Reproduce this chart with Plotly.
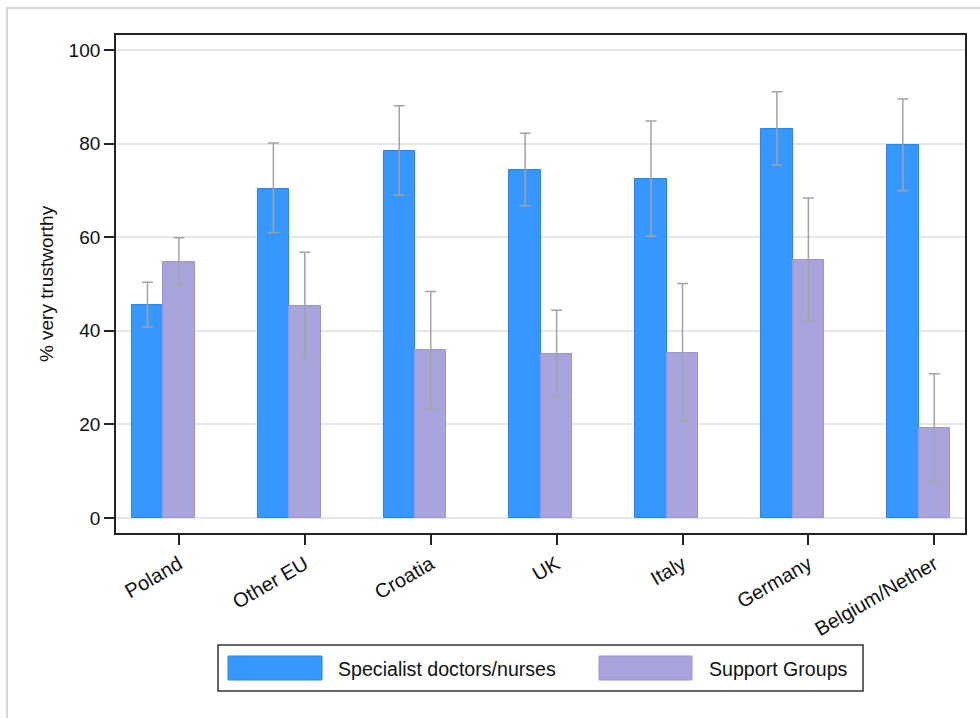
import plotly.graph_objects as go

countries = ["Poland", "Other EU", "Croatia", "UK", "Italy", "Germany", "Belgium/Nether"]
series_names = ["Specialist doctors/nurses", "Support Groups"]

spec = [45.6, 70.4, 78.5, 74.4, 72.5, 83.1, 79.6]
spec_lo = [40.8, 61.0, 69.0, 66.7, 60.2, 75.4, 69.9]
spec_hi = [50.4, 80.1, 88.1, 82.2, 84.8, 91.1, 89.5]

supp = [54.8, 45.2, 35.8, 35.1, 35.3, 55.2, 19.2]
supp_lo = [49.9, 33.8, 23.4, 26.1, 20.7, 42.2, 7.8]
supp_hi = [59.9, 56.8, 48.4, 44.4, 50.1, 68.4, 30.8]

y_ticks = [0, 20, 40, 60, 80, 100]

BLUE = "#3597ff"
BLUE_LINE = "#1e88f5"
PURPLE = "#a9a5dc"
PURPLE_LINE = "#9a93d4"
ERR = "#a3a3a3"
FONT = "Liberation Sans, Arial, sans-serif"

W, H = 980, 718
ML, MR, MT, MB = 116, 15, 35, 185
PW, PH = W - ML - MR, H - MT - MB


def px(x):
    return (x - ML) / PW


def py(y):
    return (H - MB - y) / PH


def err(vals, lo, hi):
    return dict(type="data", symmetric=False,
                array=[h - v for v, h in zip(vals, hi)],
                arrayminus=[v - l for v, l in zip(vals, lo)],
                color=ERR, thickness=1.5, width=5.5)


fig = go.Figure()
fig.add_trace(go.Bar(x=countries, y=spec, name=series_names[0], width=0.25, offset=-0.375,
                     marker=dict(color=BLUE, line=dict(color=BLUE_LINE, width=1)),
                     error_y=err(spec, spec_lo, spec_hi), showlegend=False))
fig.add_trace(go.Bar(x=countries, y=supp, name=series_names[1], width=0.25, offset=-0.125,
                     marker=dict(color=PURPLE, line=dict(color=PURPLE_LINE, width=1)),
                     error_y=err(supp, supp_lo, supp_hi), showlegend=False))

shapes = []
# outer light frame
shapes.append(dict(type="rect", xref="paper", yref="paper",
                   x0=px(7), x1=px(990), y0=py(730), y1=py(8),
                   line=dict(color="#d6d6d6", width=2), fillcolor="rgba(0,0,0,0)", layer="below"))
# legend box
shapes.append(dict(type="rect", xref="paper", yref="paper",
                   x0=px(218), x1=px(863), y0=py(691), y1=py(645),
                   line=dict(color="#333333", width=1.5), fillcolor="white"))
annotations = []
leg_items = [(228, 322, 336, BLUE, BLUE_LINE, series_names[0]),
             (599, 692, 707, PURPLE, PURPLE_LINE, series_names[1])]
for x0, x1, tx, fc, lc, name in leg_items:
    shapes.append(dict(type="rect", xref="paper", yref="paper",
                       x0=px(x0), x1=px(x1), y0=py(680), y1=py(656),
                       line=dict(color=lc, width=1), fillcolor=fc))
    annotations.append(dict(xref="paper", yref="paper", x=px(tx), y=py(668.5),
                            text=name, showarrow=False, xanchor="left", yanchor="middle",
                            font=dict(family=FONT, size=19.6, color="#111111")))

fig.update_layout(
    width=W, height=H, autosize=False,
    margin=dict(l=ML, r=MR, t=MT, b=MB, pad=0),
    paper_bgcolor="white", plot_bgcolor="white",
    barmode="overlay", bargap=0,
    font=dict(family=FONT, size=19, color="#111111"),
    shapes=shapes, annotations=annotations,
    showlegend=False,
)
fig.update_xaxes(type="category", range=[-0.5, 6.244], showgrid=False,
                 showline=True, mirror=True, linecolor="#222222", linewidth=1.8,
                 ticks="outside", ticklen=10, tickwidth=1.5, tickcolor="#222222",
                 tickangle=-30, tickfont=dict(size=20), automargin=False)
fig.update_yaxes(range=[-3.2, 103.2], tickvals=y_ticks, showgrid=True,
                 gridcolor="#e6e6e6", gridwidth=1.5, zeroline=False,
                 showline=True, mirror=True, linecolor="#222222", linewidth=1.8,
                 ticks="outside", ticklen=10, tickwidth=1.5, tickcolor="#222222",
                 tickfont=dict(size=19), automargin=False,
                 title=dict(text="% very trustworthy", font=dict(size=19), standoff=10))

fig.write_html("out.html")
